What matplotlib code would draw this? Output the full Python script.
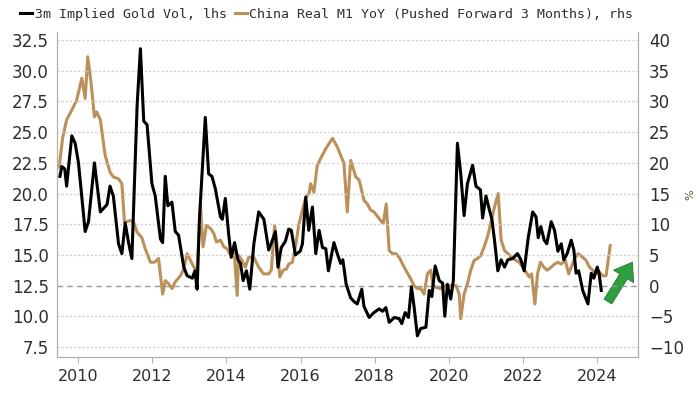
import matplotlib
matplotlib.use("Agg")
import matplotlib.pyplot as plt

# 3m implied gold vol (lhs), decimal years
vol_t = [2009.51, 2009.56, 2009.64, 2009.69, 2009.83, 2009.92, 2010.01, 2010.19, 2010.28, 2010.44,
         2010.50, 2010.60, 2010.78, 2010.86, 2010.95, 2011.09, 2011.18, 2011.27, 2011.36, 2011.45,
         2011.59, 2011.68, 2011.77, 2011.86, 2011.99, 2012.08, 2012.22, 2012.28, 2012.35, 2012.42,
         2012.53, 2012.62, 2012.71, 2012.85, 2012.94, 2013.08, 2013.15, 2013.21, 2013.27, 2013.43,
         2013.52, 2013.61, 2013.70, 2013.84, 2013.89, 2013.97, 2014.06, 2014.13, 2014.22, 2014.31,
         2014.38, 2014.45, 2014.54, 2014.63, 2014.74, 2014.87, 2015.01, 2015.14, 2015.23, 2015.32,
         2015.39, 2015.48, 2015.59, 2015.68, 2015.75, 2015.86, 2015.99, 2016.05, 2016.14, 2016.22,
         2016.32, 2016.41, 2016.50, 2016.59, 2016.68, 2016.75, 2016.84, 2016.90, 2016.99, 2017.08,
         2017.14, 2017.23, 2017.35, 2017.44, 2017.53, 2017.65, 2017.71, 2017.85, 2017.98, 2018.12,
         2018.21, 2018.30, 2018.39, 2018.53, 2018.66, 2018.73, 2018.82, 2018.91, 2018.99, 2019.06,
         2019.15, 2019.24, 2019.38, 2019.47, 2019.54, 2019.63, 2019.74, 2019.83, 2019.89, 2019.96,
         2020.05, 2020.12, 2020.23, 2020.32, 2020.41, 2020.50, 2020.64, 2020.73, 2020.85, 2020.91,
         2021.00, 2021.09, 2021.16, 2021.23, 2021.32, 2021.41, 2021.50, 2021.59, 2021.72, 2021.85,
         2021.94, 2022.03, 2022.14, 2022.26, 2022.35, 2022.41, 2022.48, 2022.57, 2022.64, 2022.76,
         2022.85, 2022.94, 2023.03, 2023.10, 2023.19, 2023.30, 2023.37, 2023.43, 2023.50, 2023.61,
         2023.75, 2023.84, 2023.91, 2024.00, 2024.05, 2024.11]
vol = [21.4, 22.2, 22.0, 20.6, 24.7, 24.1, 22.5, 16.9, 17.7, 22.5,
       21.0, 18.5, 19.1, 20.6, 19.8, 15.9, 15.1, 17.6, 16.0, 14.7,
       27.1, 31.8, 25.9, 25.6, 20.8, 19.8, 16.3, 16.0, 21.4, 19.0,
       19.3, 16.9, 16.6, 14.0, 13.3, 13.1, 13.7, 12.2, 17.8, 26.2,
       21.6, 21.4, 20.4, 18.1, 17.9, 19.6, 16.7, 14.8, 16.0, 14.6,
       14.3, 12.9, 13.7, 12.2, 15.9, 18.5, 17.9, 15.4, 16.1, 16.9,
       14.0, 15.6, 16.1, 17.1, 17.0, 15.0, 15.3, 15.9, 19.7, 17.0,
       18.9, 15.1, 17.0, 15.6, 15.5, 13.7, 15.1, 16.0, 15.1, 14.3,
       14.6, 12.6, 11.5, 11.2, 11.0, 12.2, 10.8, 9.9, 10.3, 10.6,
       10.4, 10.7, 9.5, 9.9, 9.8, 9.4, 10.3, 9.9, 12.4, 10.8,
       8.4, 9.0, 9.1, 12.1, 11.6, 14.1, 12.9, 12.7, 10.0, 12.6,
       11.4, 12.9, 24.1, 21.6, 18.2, 20.8, 22.3, 20.6, 20.3, 18.0,
       19.8, 18.7, 17.9, 16.2, 13.7, 14.6, 14.0, 14.6, 14.7, 15.1,
       14.6, 13.7, 16.4, 18.5, 18.1, 16.4, 17.3, 16.2, 15.9, 17.7,
       17.0, 15.3, 15.9, 14.6, 15.1, 16.2, 15.4, 13.5, 13.7, 12.1,
       11.0, 13.5, 13.1, 14.0, 13.5, 12.1]

# China real M1 YoY, pushed forward 3 months (rhs)
m1_t = [2009.49, 2009.58, 2009.69, 2009.83, 2009.96, 2010.10, 2010.19, 2010.26, 2010.35, 2010.44,
        2010.50, 2010.60, 2010.73, 2010.86, 2010.95, 2011.09, 2011.18, 2011.25, 2011.40, 2011.50,
        2011.59, 2011.72, 2011.81, 2011.95, 2012.06, 2012.17, 2012.28, 2012.35, 2012.44, 2012.53,
        2012.62, 2012.76, 2012.85, 2012.94, 2013.03, 2013.12, 2013.21, 2013.30, 2013.37, 2013.46,
        2013.57, 2013.66, 2013.73, 2013.84, 2013.93, 2014.02, 2014.11, 2014.20, 2014.29, 2014.33,
        2014.42, 2014.51, 2014.60, 2014.74, 2014.87, 2015.00, 2015.14, 2015.21, 2015.30, 2015.37,
        2015.44, 2015.53, 2015.62, 2015.68, 2015.78, 2015.86, 2015.95, 2016.05, 2016.14, 2016.23,
        2016.27, 2016.36, 2016.45, 2016.54, 2016.68, 2016.86, 2016.99, 2017.17, 2017.26, 2017.35,
        2017.49, 2017.58, 2017.71, 2017.80, 2017.89, 2017.98, 2018.12, 2018.23, 2018.31, 2018.39,
        2018.48, 2018.57, 2018.66, 2018.75, 2018.84, 2018.97, 2019.06, 2019.15, 2019.24, 2019.33,
        2019.42, 2019.51, 2019.57, 2019.65, 2019.78, 2019.92, 2020.05, 2020.19, 2020.28, 2020.32,
        2020.41, 2020.50, 2020.59, 2020.68, 2020.77, 2020.86, 2020.95, 2021.04, 2021.14, 2021.23,
        2021.33, 2021.41, 2021.50, 2021.59, 2021.68, 2021.81, 2021.90, 2021.99, 2022.08, 2022.17,
        2022.23, 2022.32, 2022.39, 2022.47, 2022.56, 2022.65, 2022.76, 2022.85, 2022.94, 2023.03,
        2023.14, 2023.23, 2023.30, 2023.39, 2023.49, 2023.61, 2023.70, 2023.79, 2023.88, 2023.97,
        2024.06, 2024.15, 2024.24, 2024.35]
m1 = [19.3, 24.0, 27.0, 28.6, 30.2, 33.8, 30.5, 37.3, 33.0, 27.5,
      28.3, 27.0, 21.2, 18.5, 17.7, 17.4, 16.6, 10.3, 10.6, 10.3,
      8.7, 7.8, 6.0, 3.8, 3.8, 4.4, -1.4, 0.8, 0.3, -0.5,
      0.6, 1.6, 2.7, 5.2, 4.1, 3.0, 2.5, 13.0, 6.3, 9.8,
      9.3, 8.5, 7.1, 7.4, 6.3, 6.0, 4.9, 6.3, -1.6, 4.9,
      4.1, 3.0, 4.6, 4.6, 3.0, 1.9, 1.9, 2.5, 9.8, 6.3,
      1.4, 2.5, 2.7, 3.5, 3.8, 6.3, 9.8, 12.3, 14.4, 15.0,
      16.6, 15.2, 19.6, 20.7, 22.3, 24.0, 22.6, 19.9, 12.0, 20.4,
      17.7, 17.2, 13.9, 13.3, 12.3, 12.0, 10.9, 10.1, 13.3, 5.7,
      5.2, 5.2, 4.6, 3.5, 2.5, 1.1, 0.0, -0.5, -0.5, -1.4,
      1.9, 2.5, 0.0, -0.3, -0.5, 0.0, 0.0, 0.0, -1.4, -5.4,
      -1.4, 0.3, 2.5, 4.1, 4.4, 4.9, 6.3, 7.9, 10.5, 12.8,
      15.0, 7.4, 5.7, 5.2, 4.6, 4.1, 3.8, 3.0, 2.2, 1.4,
      1.9, -3.0, 1.9, 3.8, 3.0, 2.5, 3.0, 3.5, 3.8, 3.5,
      4.1, 1.9, 3.0, 4.4, 5.2, 4.6, 4.1, 3.0, 2.5, 1.9,
      2.2, 1.6, 1.6, 6.5]

left_ticks = [7.5, 10.0, 12.5, 15.0, 17.5, 20.0, 22.5, 25.0, 27.5, 30.0, 32.5]
right_ticks = [-10, -5, 0, 5, 10, 15, 20, 25, 30, 35, 40]
year_ticks = [2010, 2012, 2014, 2016, 2018, 2020, 2022, 2024]
arrow_from = (2024.29, -2.6)
arrow_to = (2024.95, 3.8)

TXT = "#2e2e2e"
GOLD = "#BC9059"
SPINE = "#b0b0b0"


def main():
    fig = plt.figure(figsize=(7.0, 3.94), dpi=100)
    ax = fig.add_axes([0.0814, 0.094, 0.8300, 0.826])
    ax2 = ax.twinx()

    ax.set_xlim(2009.43, 2025.1)
    ax.set_ylim(6.68, 33.2)
    ax2.set_ylim(2 * (6.68 - 12.5), 2 * (33.2 - 12.5))

    # grid: dotted, with the rhs zero line dashed
    for v in left_ticks:
        if v == 12.5:
            ax.axhline(v, color="#9a9a9a", lw=1.0, ls=(0, (4, 3)), zorder=1)
        else:
            ax.axhline(v, color="#cfcfcf", lw=1.0, ls=(0, (1.5, 1.5)), zorder=1)

    ax.plot(vol_t, vol, color="black", lw=2.2, zorder=4,
            label="3m Implied Gold Vol, lhs")
    ax2.plot(m1_t, m1, color=GOLD, lw=2.2, zorder=3,
             label="China Real M1 YoY (Pushed Forward 3 Months), rhs")
    ax.set_zorder(ax2.get_zorder() + 1)
    ax.patch.set_visible(False)

    ax2.annotate("", xy=arrow_to, xytext=arrow_from,
                 arrowprops=dict(arrowstyle="simple,head_width=1.7,head_length=1.2,tail_width=0.65",
                                 fc="#2e9e3e", ec="#1f7a2c", lw=0.6, shrinkA=0, shrinkB=0))

    ax.set_yticks(left_ticks)
    ax.set_yticklabels([f"{v:.1f}" for v in left_ticks])
    ax2.set_yticks(right_ticks)
    ax.set_xticks(year_ticks)

    for a in (ax, ax2):
        for s in a.spines.values():
            s.set_color(SPINE)
        a.spines["top"].set_visible(False)
    ax.tick_params(axis="y", length=0, labelsize=12, labelcolor=TXT, pad=6)
    ax2.tick_params(axis="y", length=0, labelsize=12, labelcolor=TXT, pad=8)
    ax.tick_params(axis="x", length=4, color=SPINE, labelsize=11.5, labelcolor=TXT, pad=5)
    ax2.set_ylabel("%", rotation=90, fontsize=8, color="#4a5a3a", labelpad=1)

    h1, l1 = ax.get_legend_handles_labels()
    h2, l2 = ax2.get_legend_handles_labels()
    fig.legend(h1 + h2, l1 + l2, loc="upper left", bbox_to_anchor=(0.012, 1.01), ncol=2,
               frameon=False, handlelength=0.9, handletextpad=0.2, columnspacing=0.6,
               prop={"family": "DejaVu Sans Mono", "size": 9.5}, labelcolor=TXT)

    fig.savefig("out.png", dpi=100)


if __name__ == "__main__":
    main()
